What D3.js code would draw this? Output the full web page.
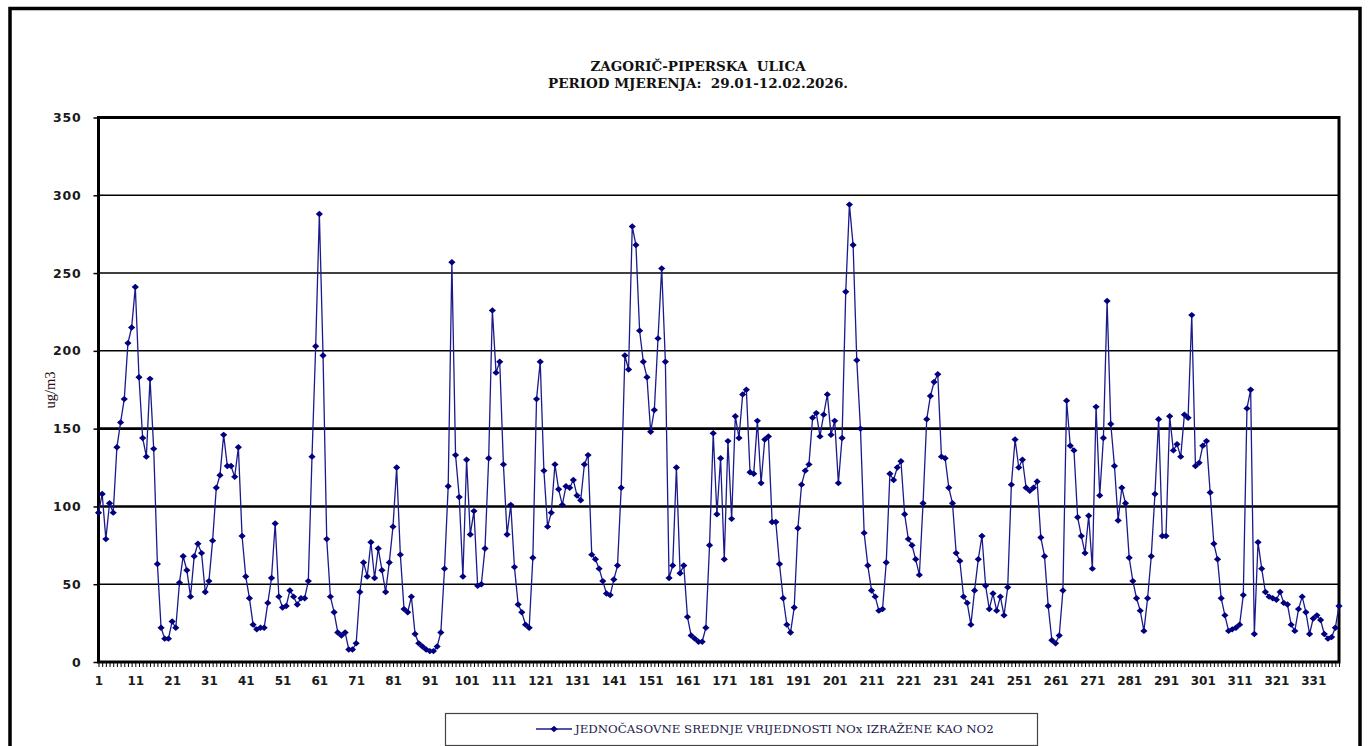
<!DOCTYPE html>
<html>
<head>
<meta charset="utf-8">
<script src="https://cdn.jsdelivr.net/npm/d3@7"></script>
<style>
  body { margin: 0; background: #fff; }
</style>
</head>
<body>
<div id="chart"></div>
<script>
// hourly NOx values (as NO2), ug/m3
var noxValues = [
  96, 108, 79, 102, 96, 138, 154, 169, 205, 215,
  241, 183, 144, 132, 182, 137, 63, 22, 15, 15,
  26, 22, 51, 68, 59, 42, 68, 76, 70, 45,
  52, 78, 112, 120, 146, 126, 126, 119, 138, 81,
  55, 41, 24, 21, 22, 22, 38, 54, 89, 42,
  35, 36, 46, 42, 37, 41, 41, 52, 132, 203,
  288, 197, 79, 42, 32, 19, 17, 19, 8, 8,
  12, 45, 64, 55, 77, 54, 73, 59, 45, 64,
  87, 125, 69, 34, 32, 42, 18, 12, 10, 8,
  7, 7, 10, 19, 60, 113, 257, 133, 106, 55,
  130, 82, 97, 49, 50, 73, 131, 226, 186, 193,
  127, 82, 101, 61, 37, 32, 24, 22, 67, 169,
  193, 123, 87, 96, 127, 111, 101, 113, 112, 117,
  107, 104, 127, 133, 69, 66, 60, 52, 44, 43,
  53, 62, 112, 197, 188, 280, 268, 213, 193, 183,
  148, 162, 208, 253, 193, 54, 62, 125, 57, 62,
  29, 17, 15, 13, 13, 22, 75, 147, 95, 131,
  66, 142, 92, 158, 144, 172, 175, 122, 121, 155,
  115, 143, 145, 90, 90, 63, 41, 24, 19, 35,
  86, 114, 123, 127, 157, 160, 145, 159, 172, 146,
  155, 115, 144, 238, 294, 268, 194, 150, 83, 62,
  46, 42, 33, 34, 64, 121, 117, 125, 129, 95,
  79, 75, 66, 56, 102, 156, 171, 180, 185, 132,
  131, 112, 102, 70, 65, 42, 38, 24, 46, 66,
  81, 49, 34, 44, 33, 42, 30, 48, 114, 143,
  125, 130, 112, 110, 112, 116, 80, 68, 36, 14,
  12, 17, 46, 168, 139, 136, 93, 81, 70, 94,
  60, 164, 107, 144, 232, 153, 126, 91, 112, 102,
  67, 52, 41, 33, 20, 41, 68, 108, 156, 81,
  81, 158, 136, 140, 132, 159, 157, 223, 126, 128,
  139, 142, 109, 76, 66, 41, 30, 20, 21, 22,
  24, 43, 163, 175, 18, 77, 60, 45, 42, 41,
  40, 45, 38, 37, 24, 20, 34, 42, 32, 18,
  28, 30, 27, 18, 15, 16, 22, 36
];

// category numbers (hour index 1..n)
var hours = d3.range(1, noxValues.length + 1);

// axis ticks
var yTicks = [0, 50, 100, 150, 200, 250, 300, 350];
var xTickLabels = d3.range(1, noxValues.length + 1, 10);   // 1, 11, 21 ... 331

var titleLines = ["ZAGORIČ-PIPERSKA  ULICA", "PERIOD MJERENJA:  29.01-12.02.2026."];
var legendLabel = "JEDNOČASOVNE SREDNJE VRIJEDNOSTI NOx IZRAŽENE KAO NO2";
var yTitle = "ug/m3";

var W = 1368, H = 746;
var plot = {left: 98.5, right: 1339, top: 117.5, bottom: 662};

var svg = d3.select("#chart")
  .append("svg")
    .attr("width", W)
    .attr("height", H)
    .style("display", "block");

svg.append("rect")
  .attr("width", W).attr("height", H)
  .attr("fill", "#fff");

// outer chart frame (runs off the bottom of the picture)
svg.append("rect")
  .attr("x", 10).attr("y", 8.5)
  .attr("width", 1350).attr("height", 780)
  .attr("fill", "none")
  .attr("stroke", "#000")
  .attr("stroke-width", 3.5);

// scales
var x = d3.scaleLinear()
  .domain([1, hours.length])
  .range([plot.left, plot.right]);

var y = d3.scaleLinear()
  .domain([0, 350])
  .range([plot.bottom, plot.top]);

// title
svg.selectAll(".title")
  .data(titleLines)
  .enter()
  .append("text")
    .attr("class", "title")
    .attr("x", 698)
    .attr("y", function(d, i) { return 71 + i * 17; })
    .attr("text-anchor", "middle")
    .style("font-family", "'DejaVu Serif', serif")
    .style("font-weight", "bold")
    .style("font-size", "13.5px")
    .style("fill", "#111")
    .style("white-space", "pre")
    .text(function(d) { return d; });

// horizontal gridlines
svg.append("g")
  .selectAll("line")
  .data(yTicks.filter(function(d) { return d > 0 && d < 350; }))
  .enter()
  .append("line")
    .attr("x1", plot.left)
    .attr("x2", plot.right)
    .attr("y1", function(d) { return y(d); })
    .attr("y2", function(d) { return y(d); })
    .style("stroke", "#000")
    .style("stroke-width", function(d) { return (d == 100 || d == 150) ? 2.6 : 1.5; });

// y axis
var yAxis = svg.append("g")
  .attr("transform", "translate(" + plot.left + ",0)")
  .call(d3.axisLeft(y).tickValues(yTicks).tickSize(5).tickPadding(12));
yAxis.select(".domain").remove();
yAxis.selectAll("line").style("stroke", "#000").style("stroke-width", 1.5);
yAxis.selectAll("text")
  .style("font-family", "'DejaVu Sans', Verdana, sans-serif")
  .style("font-weight", "bold")
  .style("font-size", "12.5px")
  .style("letter-spacing", "0.8px")
  .style("fill", "#1a1a1a");

// x axis: one tick per hour, label every 10th
var xAxis = svg.append("g")
  .attr("transform", "translate(0," + plot.bottom + ")")
  .call(d3.axisBottom(x)
    .tickValues(hours)
    .tickSize(5)
    .tickPadding(9)
    .tickFormat(function(d) { return xTickLabels.indexOf(d) >= 0 ? d : ""; }));
xAxis.select(".domain").remove();
xAxis.selectAll("line").style("stroke", "#000").style("stroke-width", 1);
xAxis.selectAll("text")
  .style("font-family", "'DejaVu Sans', Verdana, sans-serif")
  .style("font-weight", "bold")
  .style("font-size", "12px")
  .style("fill", "#1a1a1a");

// plot area border
svg.append("rect")
  .attr("x", plot.left).attr("y", plot.top)
  .attr("width", plot.right - plot.left)
  .attr("height", plot.bottom - plot.top)
  .attr("fill", "none")
  .attr("stroke", "#000")
  .attr("stroke-width", 3);

// y axis title
svg.append("text")
  .attr("transform", "translate(55,390) rotate(-90)")
  .attr("text-anchor", "middle")
  .style("font-family", "'Liberation Serif', serif")
  .style("font-size", "14.5px")
  .style("fill", "#2a1010")
  .text(yTitle);

// NOx line
var noxLine = d3.line()
  .x(function(d, i) { return x(hours[i]); })
  .y(function(d) { return y(d); });

svg.append("path")
  .attr("fill", "none")
  .attr("stroke", "#1a1a8c")
  .attr("stroke-width", 1.3)
  .attr("d", noxLine(noxValues));

// diamond markers
var diamond = "M0,-3.2L3.6,0L0,3.2L-3.6,0Z";
svg.append("g")
  .selectAll("path")
  .data(noxValues)
  .enter()
  .append("path")
    .attr("d", diamond)
    .attr("transform", function(d, i) { return "translate(" + x(hours[i]) + "," + y(d) + ")"; })
    .style("fill", "#000080");

// legend box
svg.append("rect")
  .attr("x", 445.5).attr("y", 713.5)
  .attr("width", 592).attr("height", 32)
  .attr("fill", "#fff")
  .attr("stroke", "#444")
  .attr("stroke-width", 1.2);

svg.append("line")
  .attr("x1", 536).attr("x2", 572)
  .attr("y1", 729).attr("y2", 729)
  .style("stroke", "#1a1a8c")
  .style("stroke-width", 1.3);
svg.append("path")
  .attr("d", diamond)
  .attr("transform", "translate(554,729)")
  .style("fill", "#000080");

svg.append("text")
  .attr("x", 575)
  .attr("y", 733)
  .style("font-family", "'DejaVu Serif', serif")
  .style("font-size", "11.8px")
  .style("fill", "#1c1c4c")
  .text(legendLabel);
</script>
</body>
</html>
